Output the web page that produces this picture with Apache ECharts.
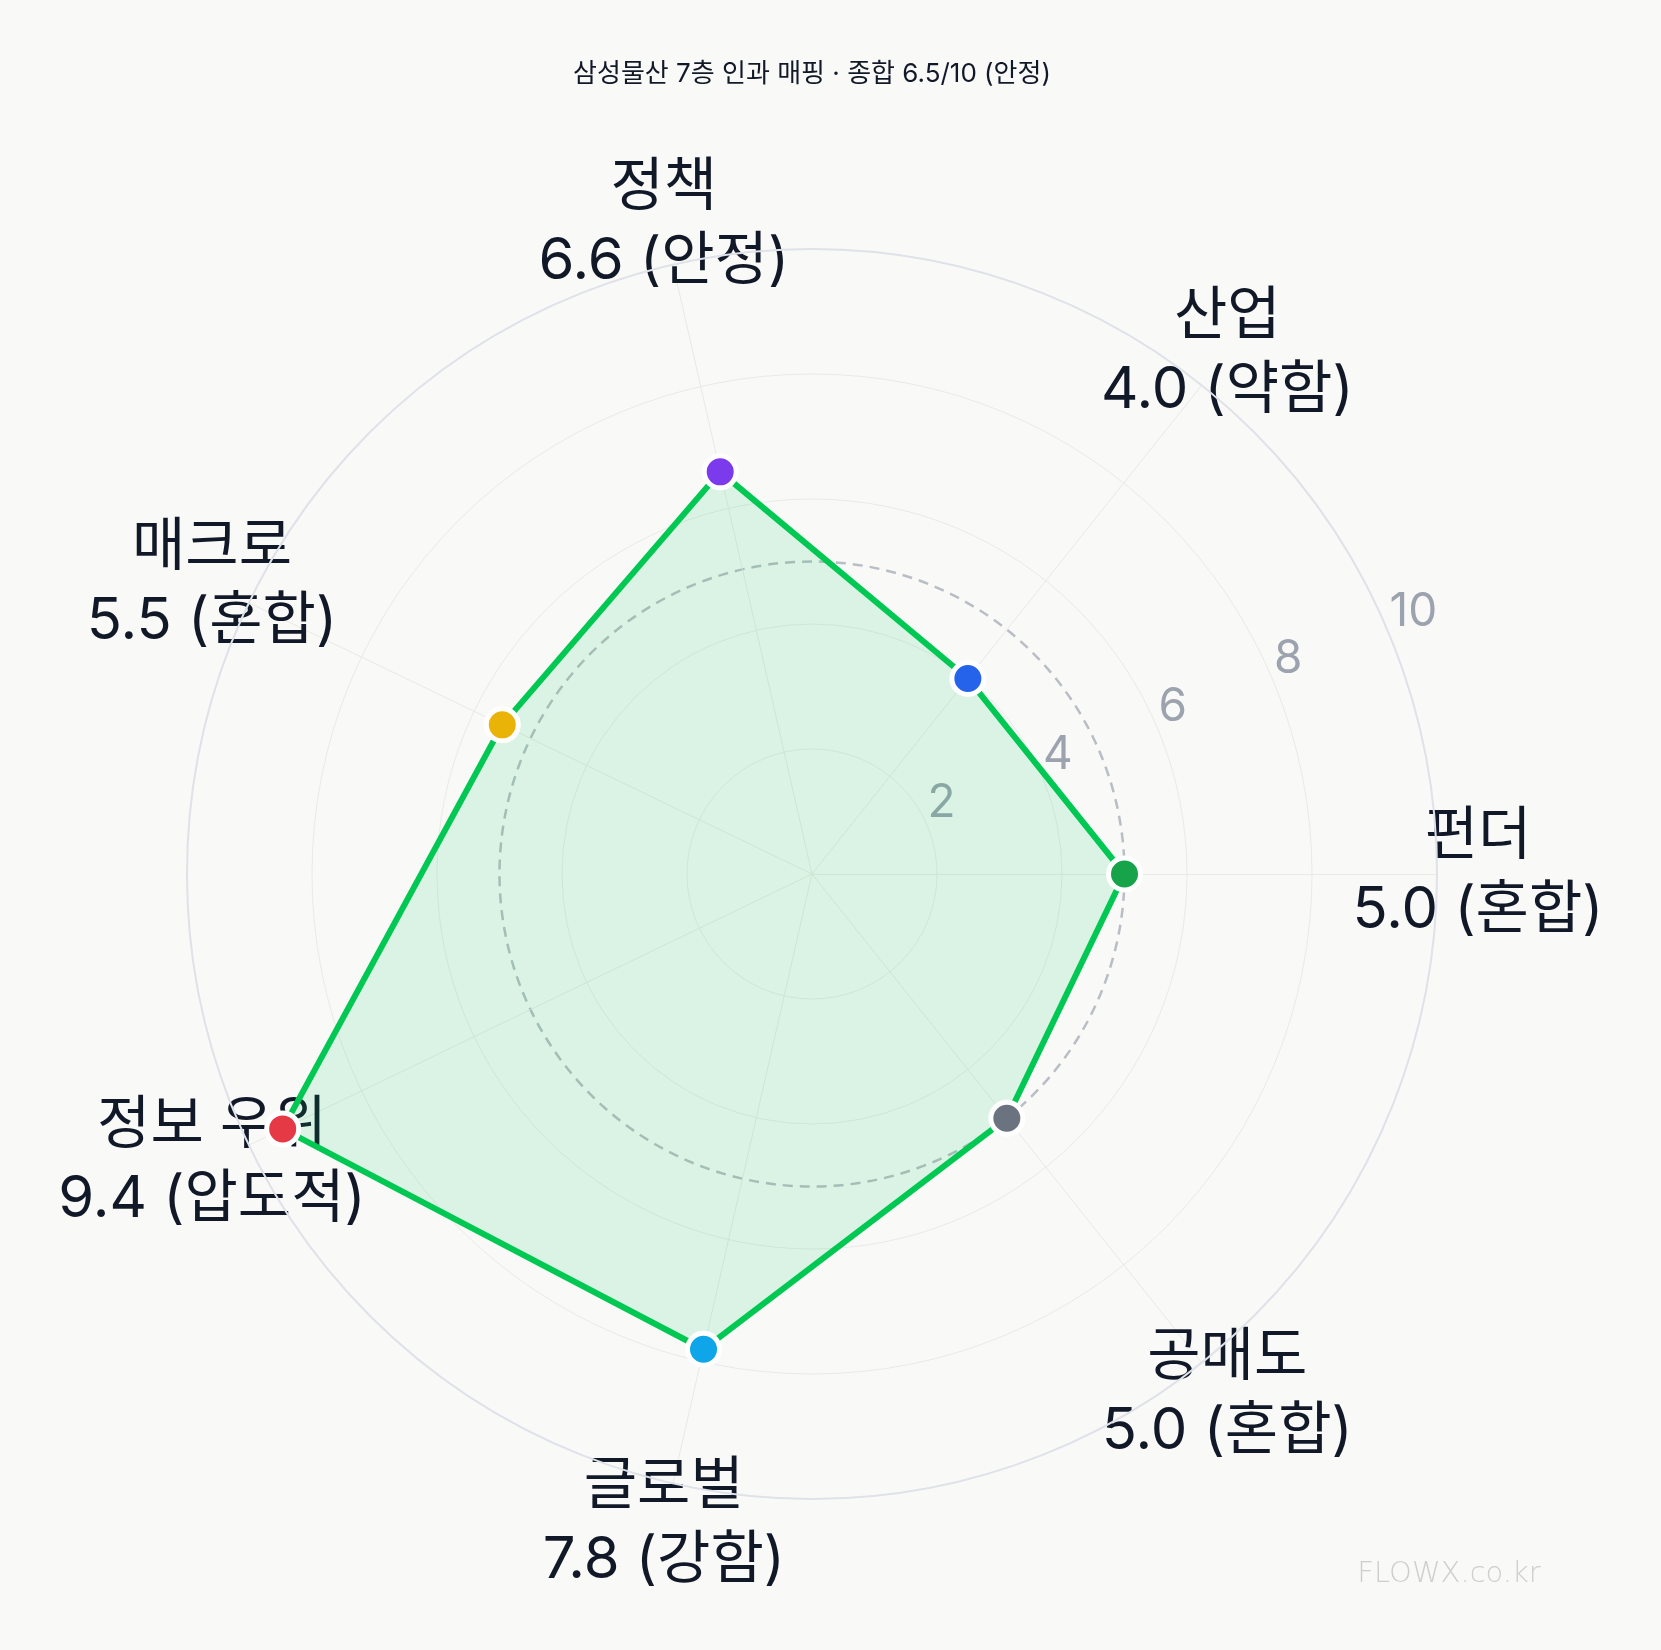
<!DOCTYPE html>
<html>
<head>
<meta charset="utf-8">
<script src="https://cdn.jsdelivr.net/npm/echarts@6/dist/echarts.min.js"></script>
<style>
html,body{margin:0;padding:0;background:#f9f9f7;}
#chart{width:1661px;height:1650px;}
</style>
</head>
<body>
<div id="chart"></div>
<script>
const TITLE = '삼성물산 7층 인과 매핑 · 종합 6.5/10 (안정)';
const CATEGORIES = ['펀더', '산업', '정책', '매크로', '정보 우위', '글로벌', '공매도'];
const VALUES = [5.0, 4.0, 6.6, 5.5, 9.4, 7.8, 5.0];
const STATUS = ['혼합', '약함', '안정', '혼합', '압도적', '강함', '혼합'];
const POINT_COLORS = ['#16a34a', '#2563eb', '#7c3aed', '#eab308', '#e63946', '#0ea5e9', '#6b7280'];
const TICK_VALUES = [2, 4, 6, 8, 10];
const AXIS_MAX = 10;
const REFERENCE_LEVEL = 5;
const WATERMARK = 'FLOWX.co.kr';

const FONT = "Inter, 'Noto Sans CJK KR', sans-serif";
const CENTER = [812, 874];
const R = 625;

const chart = echarts.init(document.getElementById('chart'), null, {renderer: 'canvas'});

const hiddenAngle = {
  type: 'value', min: 0, max: 360,
  axisLine: {show: false}, axisTick: {show: false}, axisLabel: {show: false}, splitLine: {show: false}
};
const hiddenRadius = {
  type: 'value', min: 0, max: AXIS_MAX,
  axisLine: {show: false}, axisTick: {show: false}, axisLabel: {show: false}, splitLine: {show: false}
};

const option = {
  backgroundColor: '#f9f9f7',
  animation: false,
  graphic: [
    {type: 'text', x: CENTER[0], y: 74, style: {text: TITLE, fill: '#111827', font: `26px ${FONT}`, align: 'center', verticalAlign: 'middle'}},
    {type: 'text', x: 1449, y: 1574, style: {text: WATERMARK, fill: '#cfcfca', font: `200 29px 'DejaVu Sans', ${FONT}`, align: 'center', verticalAlign: 'middle'}}
  ],
  radar: {
    center: CENTER,
    radius: R,
    startAngle: 0,
    shape: 'circle',
    splitNumber: 5,
    nameGap: 41,
    indicator: CATEGORIES.map((c, i) => ({
      name: c + '\n' + VALUES[i].toFixed(1) + ' (' + STATUS[i] + ')',
      min: 0, max: AXIS_MAX
    })),
    axisName: {
      color: '#111827', fontSize: 58, lineHeight: 74, fontFamily: FONT,
      align: 'center', verticalAlign: 'middle'
    },
    axisLine: {lineStyle: {color: '#e9e9e6', width: 1}},
    axisTick: {show: false},
    axisLabel: {show: false},
    splitLine: {lineStyle: {color: '#eaeae7', width: 1}},
    splitArea: {show: false}
  },
  polar: [
    {center: CENTER, radius: R},
    {center: CENTER, radius: R * REFERENCE_LEVEL / AXIS_MAX},
    {center: CENTER, radius: R}
  ],
  angleAxis: [
    Object.assign({}, hiddenAngle, {polarIndex: 0, startAngle: 22.5, z: 1,
      axisLine: {show: true, lineStyle: {color: '#dfe2e9', width: 2}}}),
    Object.assign({}, hiddenAngle, {polarIndex: 1, startAngle: 0,
      axisLine: {show: true, lineStyle: {color: '#b9bdc5', width: 2.5, type: [10, 7]}}}),
    Object.assign({}, hiddenAngle, {polarIndex: 2, startAngle: 0, clockwise: false})
  ],
  radiusAxis: [
    Object.assign({}, hiddenRadius, {polarIndex: 0, interval: 2,
      axisLabel: {
        show: true, margin: 0, align: 'left', verticalAlign: 'bottom',
        color: '#9ca3af', fontSize: 46, fontFamily: FONT,
        formatter: v => TICK_VALUES.includes(v) ? String(v) : ''
      }}),
    Object.assign({}, hiddenRadius, {polarIndex: 1, max: REFERENCE_LEVEL}),
    Object.assign({}, hiddenRadius, {polarIndex: 2})
  ],
  series: [
    {
      type: 'radar',
      radarIndex: 0,
      symbol: 'none',
      z: 2,
      lineStyle: {color: '#00c853', width: 6},
      areaStyle: {color: 'rgba(0,200,83,0.17)'},
      data: [{value: VALUES, name: '점수'}]
    },
    {
      type: 'scatter',
      coordinateSystem: 'polar',
      polarIndex: 2,
      z: 3,
      symbol: 'circle',
      symbolSize: 32,
      itemStyle: {borderColor: '#ffffff', borderWidth: 5, opacity: 1},
      data: VALUES.map((v, i) => ({
        value: [v, i * 360 / CATEGORIES.length],
        itemStyle: {color: POINT_COLORS[i]}
      }))
    }
  ]
};
chart.setOption(option);
</script>
</body>
</html>
